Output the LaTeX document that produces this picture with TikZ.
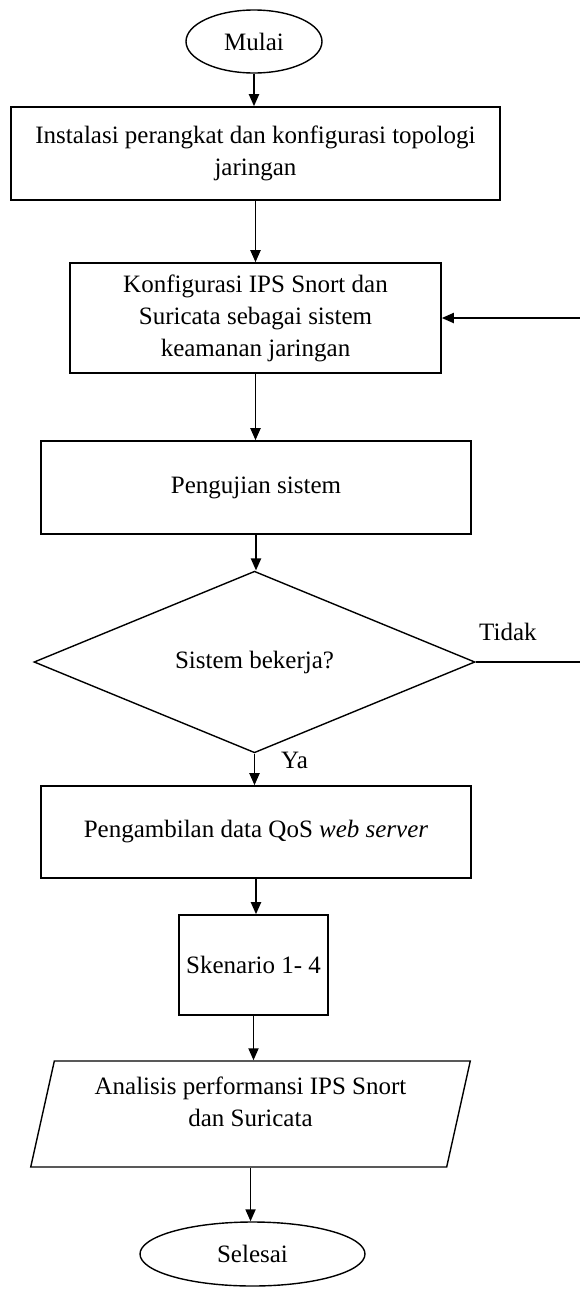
\documentclass[tikz,border=0pt]{standalone}
\usepackage{fontspec}
\setmainfont{Liberation Serif}
\usetikzlibrary{shapes.geometric,arrows.meta}
\begin{document}
\begin{tikzpicture}[x=1pt,y=-1pt,
  every node/.style={font=\fontsize{25}{32}\selectfont, inner sep=0pt, align=center},
  box/.style={draw, line width=1.6pt, rectangle},
  term/.style={draw, line width=1.4pt, ellipse},
  dec/.style={draw, line width=1.4pt, diamond},
  io/.style={draw, line width=1.4pt, trapezium, trapezium stretches=true, trapezium left angle=75.7, trapezium right angle=104.3},
  flow/.style={line width=1.9pt, -{Triangle[length=12pt,width=10pt]}},
  plain/.style={line width=1.9pt}
]
\useasboundingbox (0,0) rectangle (580,1291);
\node[term, minimum width=136pt, minimum height=63pt] (mulai) at (254,41.5) {Mulai};
\node[box, minimum width=489pt, minimum height=93pt] (n1) at (255.5,153.5) {Instalasi perangkat dan konfigurasi topologi\\jaringan};
\node[box, minimum width=371pt, minimum height=110pt] (n2) at (255.5,318) {Konfigurasi IPS Snort dan\\Suricata sebagai sistem\\keamanan jaringan};
\node[box, minimum width=430pt, minimum height=93pt] (n3) at (256,487.5) {Pengujian sistem};
\node[dec, minimum width=441pt, minimum height=146pt] (d) at (254.5,662) {Sistem bekerja?};
\node[box, minimum width=430pt, minimum height=92pt] (n4) at (256,832) {Pengambilan data QoS \textit{web server}};
\node[box, minimum width=149pt, minimum height=100pt] (n5) at (253.5,965) {Skenario 1- 4};
\node[io, minimum width=441pt, minimum height=106pt] (p) at (250.5,1114) {Analisis performansi IPS Snort\\dan Suricata\\[-8pt]\mbox{}};
\node[term, minimum width=225pt, minimum height=64pt] (sel) at (252.5,1254) {Selesai};
\node[anchor=west] (tidak) at (479,632) {Tidak};
\node[anchor=west] (ya) at (281,760) {Ya};
\coordinate (r1) at (580,662);
\coordinate (r2) at (580,318);
\draw[flow] (mulai.south) -- (mulai.south |- n1.north);
\draw[flow] (n1.south) -- (n1.south |- n2.north);
\draw[flow] (n2.south) -- (n2.south |- n3.north);
\draw[flow] (n3.south) -- (n3.south |- d.north);
\draw[flow] (d.south) -- (d.south |- n4.north);
\draw[flow] (n4.south) -- (n4.south |- n5.north);
\draw[flow] (n5.south) -- (n5.south |- p.north);
\draw[flow] (p.south) -- (p.south |- sel.north);
\draw[plain] (d.east) -- (r1);
\draw[flow] (r2) -- (n2.east);
\end{tikzpicture}
\end{document}
